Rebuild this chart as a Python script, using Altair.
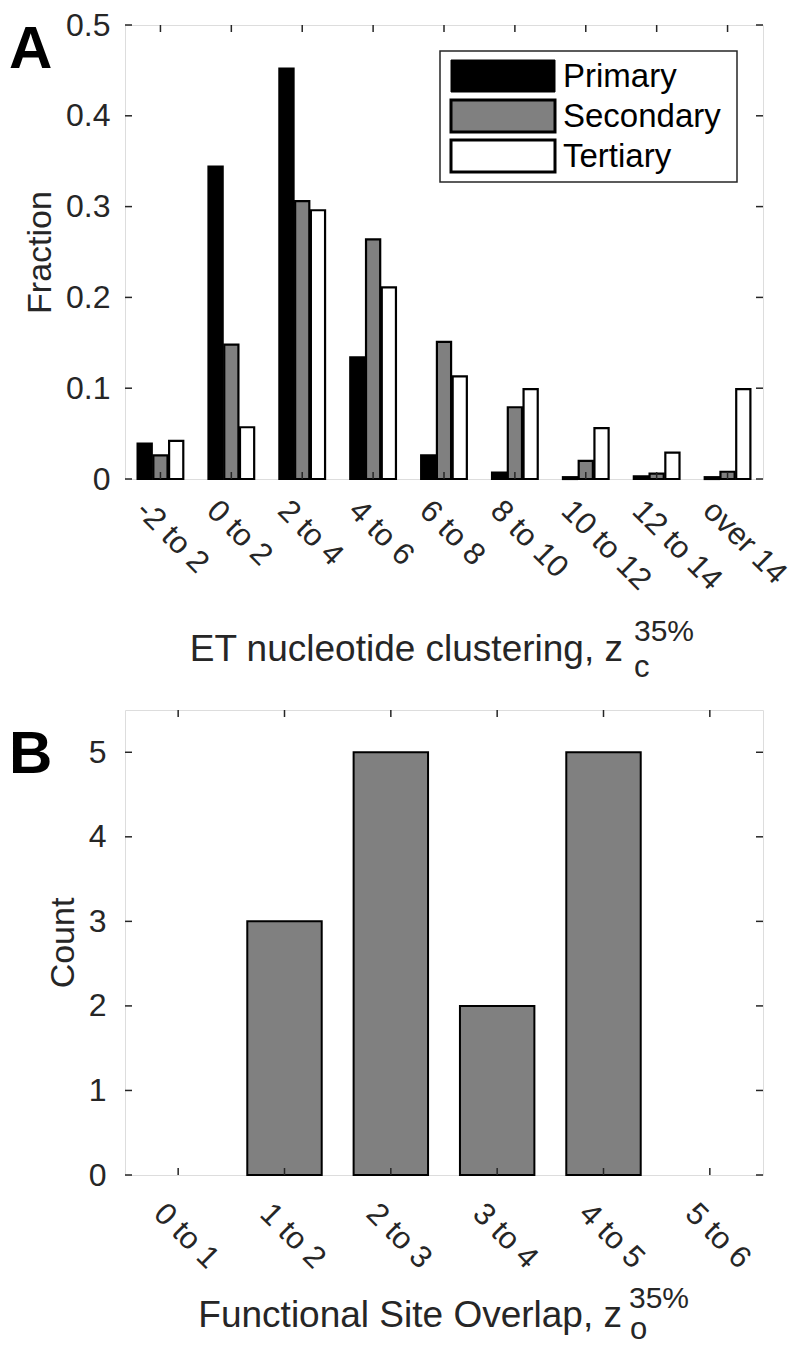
import altair as alt
import pandas as pd

# ---------------- data ----------------
categories_a = ["-2 to 2", "0 to 2", "2 to 4", "4 to 6", "6 to 8",
                "8 to 10", "10 to 12", "12 to 14", "over 14"]
series = ["Primary", "Secondary", "Tertiary"]
primary = [0.039, 0.344, 0.452, 0.134, 0.026, 0.007, 0.002, 0.003, 0.002]
secondary = [0.026, 0.148, 0.306, 0.264, 0.151, 0.079, 0.020, 0.006, 0.008]
tertiary = [0.042, 0.057, 0.296, 0.211, 0.113, 0.099, 0.056, 0.029, 0.099]
yticks_a = [0, 0.1, 0.2, 0.3, 0.4, 0.5]

categories_b = ["0 to 1", "1 to 2", "2 to 3", "3 to 4", "4 to 5", "5 to 6"]
counts_b = [0, 3, 5, 2, 5, 0]
yticks_b = [0, 1, 2, 3, 4, 5]

ytitle_a = "Fraction"
xtitle_a = ["ET nucleotide clustering, z", "c", "35%"]
ytitle_b = "Count"
xtitle_b = ["Functional Site Overlap, z", "o", "35%"]
panel_letters = ["A", "B"]

# ---------------- style ----------------
FONT = "Liberation Sans"
INK = "#262626"
W = 638
HA = 454
HB = 465
TICK = 7
fills = ["black", "#808080", "white"]

rows = []
for s, vals in zip(series, [primary, secondary, tertiary]):
    for c, v in zip(categories_a, vals):
        rows.append({"cat": c, "series": s, "value": v})
df_a = pd.DataFrame(rows)
df_b = pd.DataFrame({"cat": categories_b, "value": counts_b})


def x_axis(pad):
    return alt.Axis(labelAngle=45, labelAlign="left", labelBaseline="top",
                    labelPadding=pad, labelOffset=-9, labelFontSize=31,
                    title=None, ticks=False, tickSize=0, domain=False,
                    grid=False, labelColor=INK, labelFont=FONT)


def y_axis(title, vals, fmt, lpad):
    return alt.Axis(values=vals, title=title, titleFontSize=34, titleFont=FONT,
                    titleColor=INK, titleFontWeight="normal", titlePadding=8,
                    labelFontSize=32, labelFont=FONT, labelColor=INK,
                    labelPadding=lpad, ticks=False, tickSize=0, domain=False,
                    grid=False, format=fmt)


def tick_layers(xscale, yscale, yvals, cats, h):
    ydf = pd.DataFrame({"value": yvals})
    xdf = pd.DataFrame({"cat": cats})
    yl = alt.Chart(ydf).mark_rule(color=INK, strokeWidth=1.5).encode(
        y=alt.Y("value:Q", scale=yscale),
        x=alt.value(0), x2=alt.value(TICK))
    yr = alt.Chart(ydf).mark_rule(color=INK, strokeWidth=1.5).encode(
        y=alt.Y("value:Q", scale=yscale),
        x=alt.value(W - TICK), x2=alt.value(W))
    xb = alt.Chart(xdf).mark_rule(color=INK, strokeWidth=1.5).encode(
        x=alt.X("cat:N", scale=xscale, sort=cats),
        y=alt.value(h - TICK), y2=alt.value(h))
    xt = alt.Chart(xdf).mark_rule(color=INK, strokeWidth=1.5).encode(
        x=alt.X("cat:N", scale=xscale, sort=cats),
        y=alt.value(0), y2=alt.value(TICK))
    return [yl, yr, xb, xt]


def txt(s, x, y, size, align="left", weight="normal", color=INK, baseline="alphabetic"):
    return alt.Chart(pd.DataFrame({"t": [s]})).mark_text(
        align=align, baseline=baseline, fontSize=size, font=FONT,
        fontWeight=weight, color=color).encode(
        x=alt.value(x), y=alt.value(y), text="t:N")


# ---------------- panel A ----------------
xs_a = alt.Scale(domain=categories_a, paddingInner=0, paddingOuter=0)
ys_a = alt.Scale(domain=[0, 0.5], nice=False)

bars_a = alt.Chart(df_a).mark_bar(stroke="black", strokeWidth=2.2).encode(
    x=alt.X("cat:N", scale=xs_a, sort=categories_a, axis=x_axis(16)),
    xOffset=alt.XOffset("series:N", sort=series,
                        scale=alt.Scale(domain=series, paddingInner=0.1, paddingOuter=0.8)),
    y=alt.Y("value:Q", scale=ys_a, axis=y_axis(ytitle_a, yticks_a, "~g", 15)),
    fill=alt.Fill("series:N", scale=alt.Scale(domain=series, range=fills), legend=None),
)

# legend (drawn as marks)
leg = [alt.Chart(pd.DataFrame({"t": [""]})).mark_rect(
    fill="white", stroke=INK, strokeWidth=1.5).encode(
    x=alt.value(315), x2=alt.value(612), y=alt.value(26), y2=alt.value(157))]
row_tops = [35, 75, 115]
for s, f, top in zip(series, fills, row_tops):
    leg.append(alt.Chart(pd.DataFrame({"t": [s]})).mark_rect(
        fill=f, stroke="black", strokeWidth=3 if s != "Primary" else 1).encode(
        x=alt.value(326), x2=alt.value(430), y=alt.value(top), y2=alt.value(top + 32)))
    leg.append(txt(s, 438, top + 17, 33, color="black", baseline="middle"))

title_a = [
    txt(xtitle_a[0], 498, HA + 182, 37, align="right"),
    txt(xtitle_a[1], 509, HA + 198, 31),
    txt(xtitle_a[2], 509, HA + 162, 30),
    txt(panel_letters[0], -116, 43, 60, weight="bold", color="black"),
]

panel_a = alt.layer(
    bars_a, *tick_layers(xs_a, ys_a, yticks_a, categories_a, HA), *leg, *title_a
).properties(width=W, height=HA)

# ---------------- panel B ----------------
xs_b = alt.Scale(domain=categories_b, paddingInner=0.3, paddingOuter=0.15)
ys_b = alt.Scale(domain=[0, 5.5], nice=False)

bars_b = alt.Chart(df_b).mark_bar(fill="#808080", stroke="black", strokeWidth=2).encode(
    x=alt.X("cat:N", scale=xs_b, sort=categories_b, axis=x_axis(23)),
    y=alt.Y("value:Q", scale=ys_b, axis=y_axis(ytitle_b, yticks_b, "d", 19)),
).transform_filter("datum.value > 0")

title_b = [
    txt(xtitle_b[0], 497, HB + 152, 37, align="right"),
    txt(xtitle_b[1], 505, HB + 164, 31),
    txt(xtitle_b[2], 504, HB + 133, 30),
    txt(panel_letters[1], -116, 63, 60, weight="bold", color="black"),
]

panel_b = alt.layer(
    bars_b, *tick_layers(xs_b, ys_b, yticks_b, categories_b, HB), *title_b
).properties(width=W, height=HB)

chart = alt.vconcat(panel_a, panel_b, spacing=24).properties(
    padding={"left": 0, "top": 0, "right": -1, "bottom": 0}
).configure_view(stroke=INK, strokeWidth=1.5).configure(background="white")

chart.save("out.html", embed_options={"renderer": "svg", "actions": False})
